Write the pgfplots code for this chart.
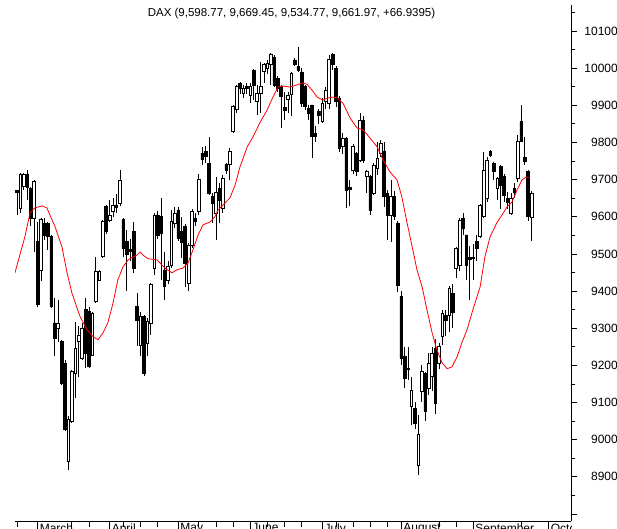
\documentclass[border=0pt]{standalone}
\usepackage{pgfplots}
\pgfplotsset{compat=1.18}
\usepackage{pgfplotstable}
\usepackage{fontspec}
\setmainfont{Liberation Sans}

\pgfplotstableread{
idx o h l c
0 9670 9672 9605 9666
1 9623 9717 9609 9713
2 9681 9717 9672 9713
3 9715 9725 9645 9680
4 9677 9681 9574 9596
5 9596 9700 9505 9695
6 9533 9587 9358 9363
7 9457 9596 9426 9592
8 9583 9596 9538 9551
9 9583 9587 9511 9547
10 9547 9551 9354 9358
11 9314 9381 9224 9273
12 9300 9376 9264 9314
13 9264 9269 9148 9152
14 9206 9215 9022 9027
15 8941 9063 8919 9054
16 9049 9188 9045 9184
17 9179 9318 9112 9246
18 9264 9305 9170 9282
19 9219 9314 9215 9300
20 9350 9381 9193 9233
21 9345 9358 9193 9197
22 9228 9345 9224 9340
23 9372 9493 9367 9453
24 9430 9457 9426 9453
25 9493 9592 9488 9587
26 9627 9632 9555 9560
27 9590 9645 9585 9603
28 9615 9650 9600 9630
29 9632 9660 9610 9626
30 9636 9726 9630 9699
31 9592 9596 9493 9515
32 9533 9565 9399 9500
33 9512 9540 9480 9506
34 9560 9587 9448 9462
35 9358 9394 9251 9322
36 9255 9345 9224 9331
37 9331 9336 9170 9179
38 9260 9327 9224 9318
39 9314 9421 9282 9417
40 9461 9610 9444 9605
41 9605 9615 9540 9551
42 9600 9650 9430 9555
43 9457 9505 9376 9412
44 9430 9480 9420 9466
45 9470 9618 9462 9587
46 9583 9625 9570 9610
47 9618 9625 9535 9542
48 9560 9600 9490 9530
49 9573 9580 9412 9475
50 9421 9530 9400 9524
51 9524 9620 9515 9614
52 9596 9610 9575 9587
53 9614 9716 9605 9702
54 9771 9789 9740 9754
55 9775 9790 9745 9762
56 9744 9816 9659 9663
57 9654 9663 9583 9636
58 9610 9708 9538 9665
59 9677 9690 9583 9645
60 9623 9713 9610 9704
61 9740 9745 9715 9726
62 9740 9784 9699 9775
63 9829 9900 9825 9896
64 9888 9955 9880 9950
65 9959 9964 9930 9946
66 9932 9955 9920 9946
67 9950 9960 9930 9946
68 9928 9960 9905 9950
69 9995 9998 9914 9955
70 9910 9955 9874 9932
71 9932 10018 9880 9950
72 9991 10015 9960 10009
73 10000 10022 9985 10013
74 10009 10040 9955 10036
75 10030 10036 9950 9955
76 9973 9978 9937 9946
77 9950 9955 9838 9924
78 9895 9935 9860 9886
79 9915 9935 9880 9928
80 9930 9990 9870 9986
81 10022 10027 10005 10009
82 10005 10058 9990 9995
83 9990 10000 9895 9905
84 9950 9955 9888 9897
85 9892 9900 9860 9879
86 9901 9901 9758 9816
87 9825 9845 9800 9816
88 9883 9890 9850 9874
89 9856 9919 9852 9906
90 9910 9950 9890 9941
91 9905 10036 9890 10025
92 10036 10040 9995 10010
93 10000 10005 9895 9910
94 9920 9925 9775 9785
95 9789 9825 9770 9811
96 9811 9815 9623 9672
97 9680 9700 9630 9675
98 9726 9795 9715 9789
99 9771 9775 9710 9721
100 9753 9878 9748 9860
101 9860 9870 9745 9753
102 9708 9726 9663 9721
103 9708 9712 9605 9618
104 9663 9744 9658 9739
105 9730 9802 9712 9757
106 9771 9807 9760 9798
107 9775 9802 9627 9654
108 9663 9672 9537 9605
109 9605 9699 9533 9654
110 9654 9670 9590 9600
111 9582 9590 9398 9416
112 9385 9400 9200 9219
113 9223 9250 9140 9165
114 9190 9250 9160 9192
115 9089 9170 9040 9134
116 9084 9100 9030 9044
117 8932 9066 8905 9013
118 9129 9200 9100 9183
119 9179 9183 9050 9076
120 9138 9232 9120 9205
121 9170 9250 9130 9232
122 9246 9270 9070 9098
123 9205 9260 9190 9250
124 9277 9350 9255 9340
125 9335 9350 9280 9322
126 9335 9415 9290 9407
127 9394 9420 9300 9344
128 9461 9520 9435 9515
129 9470 9596 9455 9591
130 9596 9610 9550 9570
131 9551 9551 9430 9470
132 9490 9520 9376 9486
133 9490 9528 9430 9488
134 9533 9550 9480 9515
135 9546 9635 9542 9631
136 9600 9775 9596 9726
137 9650 9760 9640 9753
138 9775 9780 9760 9766
139 9744 9748 9699 9721
140 9676 9708 9645 9703
141 9735 9740 9622 9685
142 9708 9715 9640 9658
143 9649 9667 9620 9640
144 9609 9665 9605 9649
145 9676 9690 9650 9667
146 9703 9820 9694 9802
147 9856 9900 9800 9802
148 9760 9815 9740 9750
149 9721 9726 9590 9600
150 9598.77 9669.45 9534.77 9661.97
}\candles

\pgfplotstableread{
idx ma
-0.6 9449
2.3 9546
3.8 9610
5.2 9624
7.3 9629
8.7 9624
11.1 9573
13.1 9519
14.6 9449
16.0 9395
18.4 9331
20.4 9296
22.2 9277
23.6 9269
25.1 9288
26.5 9315
28.0 9368
29.4 9430
30.9 9465
32.4 9484
33.8 9492
35.0 9497
35.9 9505
36.7 9497
38.2 9487
40.8 9484
43.1 9462
45.2 9449
46.6 9457
48.4 9462
49.9 9476
51.3 9511
52.8 9551
54.2 9578
56.3 9586
57.7 9600
58.6 9618
60.1 9632
62.1 9651
63.6 9686
65.0 9734
67.1 9788
68.8 9815
70.8 9853
72.9 9887
74.6 9922
76.1 9949
77.6 9952
79.6 9949
81.6 9955
83.1 9960
84.5 9957
86.0 9941
87.5 9922
89.2 9914
90.7 9920
92.1 9922
93.3 9920
95.0 9906
97.1 9866
99.1 9839
100.9 9834
102.9 9812
105.0 9788
106.7 9753
108.7 9721
110.8 9699
112.2 9653
113.7 9584
115.2 9519
116.6 9457
118.1 9411
119.5 9350
121.0 9288
122.4 9242
123.9 9207
125.4 9191
126.8 9196
128.3 9223
129.7 9261
131.2 9296
132.9 9350
135.0 9411
136.4 9492
137.9 9546
139.9 9584
141.4 9605
142.9 9627
144.3 9640
145.8 9672
147.2 9699
148.4 9707
149.3 9705
}\matable

\pgfplotsset{
  common/.style={
    at={(15pt,7pt)}, anchor=south west,
    scale only axis, width=556pt, height=516pt,
    xmin=-0.58, xmax=161.5, ymin=8781, ymax=10170,
  }
}

\begin{document}
\begin{tikzpicture}
\useasboundingbox (0,0) rectangle (617pt,528pt);
% wicks
\begin{axis}[common, hide axis]
\addplot[mark=none, draw=none, forget plot,
  error bars/.cd, y dir=both, y explicit, error mark=none,
  error bar style={draw=black, line width=0.8pt, solid}]
  table[x=idx, y expr={(\thisrow{h}+\thisrow{l})/2}, y error expr={(\thisrow{h}-\thisrow{l})/2}] {\candles};
\end{axis}
% bodies
\begin{axis}[common, hide axis, ybar stacked, bar width=0.78]
\addplot[draw=none, fill=none] table[x=idx, y expr={min(\thisrow{o},\thisrow{c})}] {\candles};
\addplot[draw=black, fill=white, line width=0.7pt] table[x=idx, y expr={max(\thisrow{c}-\thisrow{o},0)}] {\candles};
\addplot[draw=black, fill=black, line width=0.7pt] table[x=idx, y expr={max(\thisrow{o}-\thisrow{c},0)}] {\candles};
\end{axis}
% moving average and right axis
\begin{axis}[common, axis y line*=right, axis x line=none, xtick=\empty,
  axis line style={-, black, line width=0.8pt},
  ytick={8800,8900,9000,9100,9200,9300,9400,9500,9600,9700,9800,9900,10000,10100},
  yticklabels={,8900,9000,9100,9200,9300,9400,9500,9600,9700,9800,9900,10000,10100},
  minor ytick={8850,8950,9050,9150,9250,9350,9450,9550,9650,9750,9850,9950,10050,10150},
  tick align=outside, major tick length=6pt, minor tick length=4pt,
  tick style={black, line width=0.8pt},
  yticklabel style={anchor=east, inner sep=0pt, xshift=41pt, font=\fontsize{12}{14}\selectfont},
  title={DAX (9,598.77, 9,669.45, 9,534.77, 9,661.97, +66.9395)},
  title style={at={(0.4973,1)}, anchor=center, yshift=-14.5pt, inner sep=0pt, font=\fontsize{11.5}{13}\selectfont},
]
\addplot[red, line width=0.8pt, mark=none] table[x=idx, y=ma] {\matable};
\end{axis}
% bottom axis
\begin{scope}
\clip (0,0) rectangle (571.5pt,528pt);
\begin{axis}[common, axis x line*=bottom, axis y line=none, ytick=\empty,
  axis line style={-, black, line width=0.8pt},
  xtick={6,27,47,68,89,112,133,155},
  xticklabels={March,April,May,June,July,August,September,October},
  minor xtick={0,16,21,31,36,41,53,58,63,73,78,83,93,98,103,108,123,128,147},
  tick align=outside, major tick length=12pt, minor tick length=6pt,
  tick style={black, line width=0.8pt},
  xticklabel style={anchor=north west, inner sep=0pt, xshift=2pt, yshift=9.5pt, font=\fontsize{12}{14}\selectfont},
]
\end{axis}
\end{scope}
\end{tikzpicture}
\end{document}
